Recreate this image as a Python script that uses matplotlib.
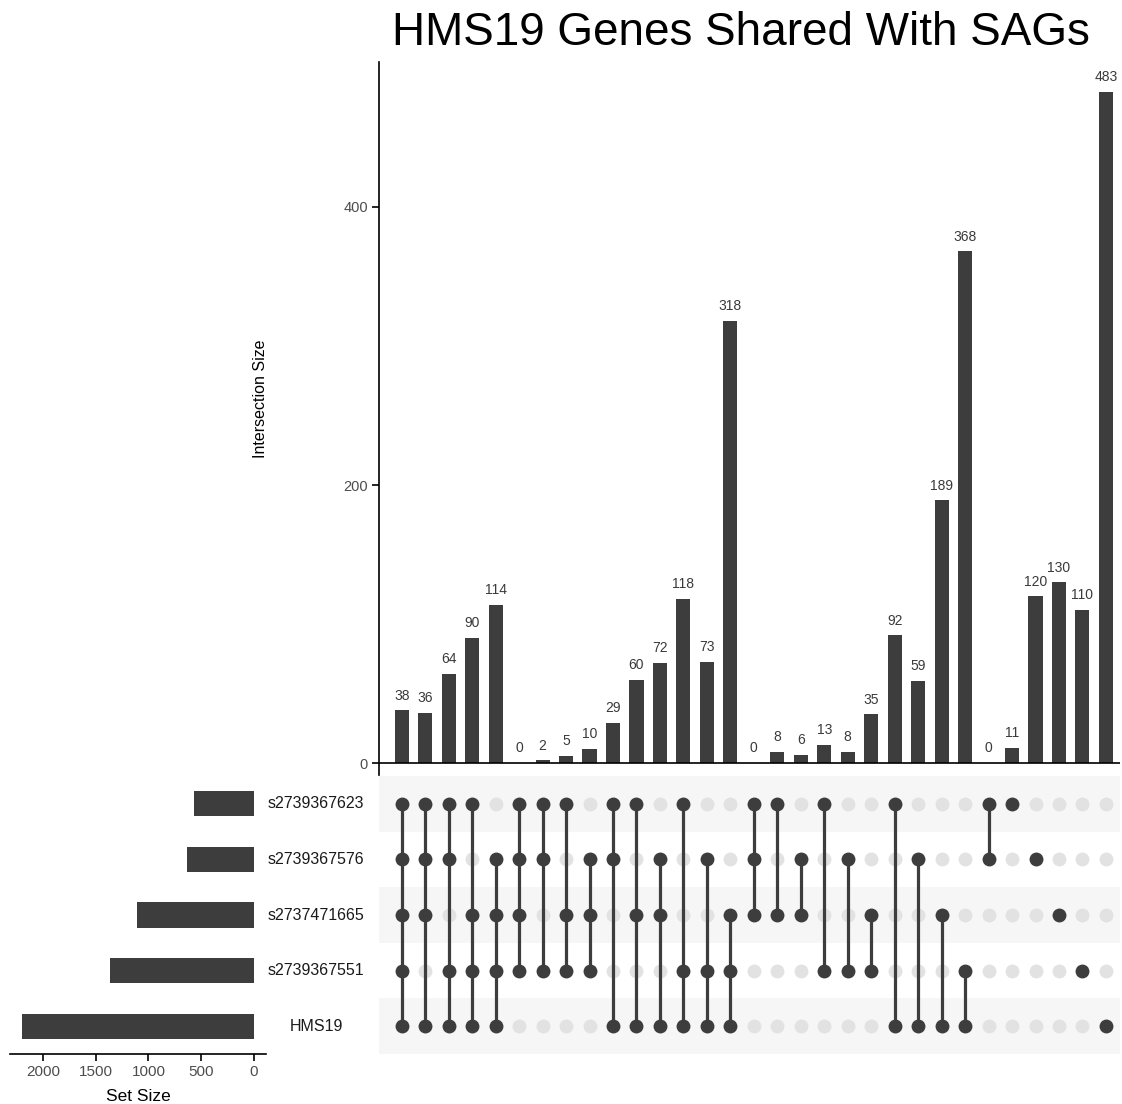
import matplotlib
matplotlib.use("Agg")
import matplotlib.pyplot as plt
import numpy as np

plt.rcParams['font.family'] = ['Liberation Sans', 'DejaVu Sans']

title = "HMS19 Genes Shared With SAGs"
set_names = ["s2739367623", "s2739367576", "s2737471665", "s2739367551", "HMS19"]
set_sizes = [566, 631, 1111, 1366, 2203]

intersection_sizes = [38, 36, 64, 90, 114, 0, 2, 5, 10, 29, 60, 72, 118, 73, 318,
                      0, 8, 6, 13, 8, 35, 92, 59, 189, 368, 0, 11, 120, 130, 110, 483]

# membership: indices of sets (rows, 0 = top) in each intersection
memberships = [
    [0, 1, 2, 3, 4], [0, 1, 2, 4], [0, 1, 3, 4], [0, 2, 3, 4], [1, 2, 3, 4],
    [0, 1, 2, 3], [0, 1, 3], [0, 2, 3], [1, 2, 3],
    [0, 1, 4], [0, 2, 4], [1, 2, 4], [0, 3, 4], [1, 3, 4], [2, 3, 4],
    [0, 1, 2], [0, 2], [1, 2], [0, 3], [1, 3], [2, 3],
    [0, 4], [1, 4], [2, 4], [3, 4], [0, 1],
    [0], [1], [2], [3], [4],
]

y_ticks = [0, 200, 400]
set_ticks = [0, 500, 1000, 1500, 2000]

W, H = 1122, 1104
fig = plt.figure(figsize=(W / 100, H / 100), dpi=100)

def ax_px(l, r, t, b):
    return fig.add_axes([l / W, (H - b) / H, (r - l) / W, (b - t) / H])

dark = '#3d3d3d'
light = '#e2e2e2'
stripe = '#f6f6f6'
tick_col = '#4d4d4d'

n = len(intersection_sizes)
xs = np.arange(n)
xlim = (-0.97, n - 1 + 0.6)

# ---- bar chart
axb = ax_px(379, 1120, 62, 775)
axb.bar(xs, intersection_sizes, width=0.6, color=dark)
for x, v in zip(xs, intersection_sizes):
    axb.text(x, v + 5.5, str(v), ha='center', va='bottom', fontsize=10, color='#3a3a3a')
axb.set_xlim(*xlim)
axb.set_ylim(-8.6, 504.3)
axb.axhline(0, color='black', lw=1.2)
for s in ['top', 'right', 'bottom']:
    axb.spines[s].set_visible(False)
axb.spines['left'].set_linewidth(1.2)
axb.set_xticks([])
axb.set_yticks(y_ticks)
axb.set_yticklabels([str(t) for t in y_ticks], fontsize=10.5, color=tick_col)
axb.tick_params(axis='y', length=5, width=1.2, color='black', pad=3)
axb.set_ylabel("Intersection Size", fontsize=11.5)
axb.yaxis.set_label_coords((268 - 379) / 741, (775 - 399) / 713)

# ---- matrix
axm = ax_px(379, 1120, 776, 1054)
nsets = len(set_names)
for i in range(nsets):
    if i % 2 == 0:
        axm.axhspan(i - 0.5, i + 0.5, color=stripe, lw=0, zorder=0)
for x, mem in zip(xs, memberships):
    empty = [r for r in range(nsets) if r not in mem]
    axm.plot([x] * len(empty), empty, 'o', ms=10, color=light, mec='none', zorder=2)
    if len(mem) > 1:
        axm.plot([x, x], [min(mem), max(mem)], '-', lw=2.3, color=dark, zorder=3)
    axm.plot([x] * len(mem), mem, 'o', ms=10, color=dark, mec='none', zorder=4)
axm.set_xlim(*xlim)
axm.set_ylim(nsets - 0.5, -0.5)
axm.axis('off')

# ---- set sizes
axs = ax_px(10, 266, 776, 1054)
axs.barh(np.arange(nsets), set_sizes, height=0.45, color=dark)
axs.set_ylim(nsets - 0.5, -0.5)
axs.set_xlim(2313, -114)
for s in ['top', 'right', 'left']:
    axs.spines[s].set_visible(False)
axs.spines['bottom'].set_linewidth(1.2)
axs.set_yticks([])
axs.set_xticks(set_ticks)
axs.set_xticklabels([str(t) for t in set_ticks], fontsize=11, color=tick_col)
axs.tick_params(axis='x', length=5, width=1.2, pad=3)
axs.set_xlabel("Set Size", fontsize=12.5, labelpad=7)

# set names
for i, name in enumerate(set_names):
    y = 776 + (i + 0.5) * (1054 - 776) / nsets
    fig.text(316 / W, (H - y) / H, name, ha='center', va='center', fontsize=11.5, color='#1a1a1a')

fig.text(741 / W, (H - 33) / H, title, ha='center', va='center', fontsize=33)

fig.savefig("out.png", dpi=100)
